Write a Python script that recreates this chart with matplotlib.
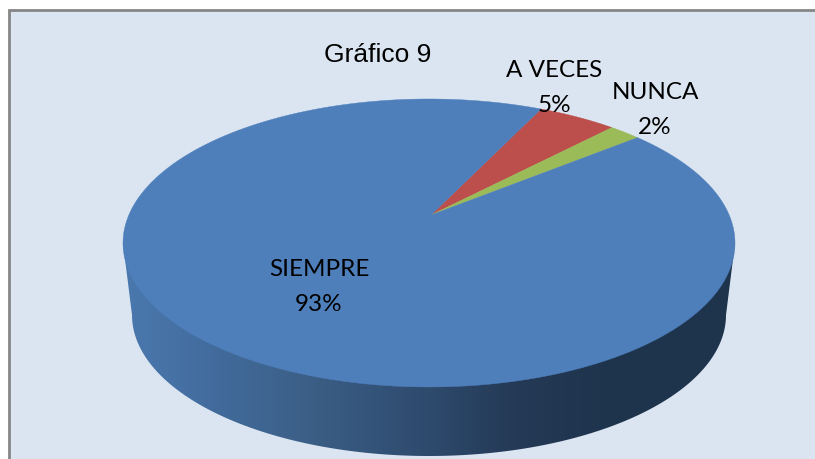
import numpy as np
import matplotlib
matplotlib.use('Agg')
import matplotlib.pyplot as plt
from matplotlib.colors import LinearSegmentedColormap
from matplotlib.patches import Rectangle

categories = ['SIEMPRE', 'A VECES', 'NUNCA']
values = [93, 5, 2]
colors = ['#4e7fbb', '#bc4f4c', '#9bbb59']
title = 'Gráfico 9'

# label centres in pixels
label_pos = [(319, 287), (554, 88), (655, 110)]

# top ellipse of the 3d pie, apex sits above the centre because of the perspective
cx, cy, rx, ry = 429, 243, 306, 144
apex_x, apex_y = 431, 215
start_angle = 64
k = (cy - apex_y) / ry


def project(theta):
    x = np.cos(theta)
    y = np.sin(theta)
    w = 1 + k * y
    px = cx + rx * np.sqrt(1 - k ** 2) * x / w
    py = cy - (ry * y + (cy - apex_y)) / w
    return px, py


fig = plt.figure(figsize=(8.15, 4.59), dpi=100)
ax = fig.add_axes([0, 0, 1, 1])
ax.set_xlim(0, 815)
ax.set_ylim(459, 0)
ax.axis('off')

# chart area and its grey border
ax.add_patch(Rectangle((9, 10), 830, 470, fc='#dbe5f1', ec='#868686', lw=2, zorder=0))

# side of the pie
t = np.linspace(np.pi, 2 * np.pi, 200)
bx = 429 + 297 * np.cos(t)
by = 315 - 141 * np.sin(t)
side_x = np.r_[123, bx, 735]
side_y = np.r_[243, by, 243]
side = ax.fill(side_x, side_y, color='none', zorder=1)[0]
side_cmap = LinearSegmentedColormap.from_list('side', [(0, '#4a78ae'), (0.13, '#436d9f'),
                                                       (0.29, '#3c6088'), (0.5, '#2e4a6d'),
                                                       (0.64, '#243a56'), (0.78, '#1f344d'),
                                                       (1, '#1e334c')])
im = ax.imshow(np.linspace(0, 1, 400).reshape(1, -1), cmap=side_cmap, aspect='auto',
               extent=[123, 735, 459, 200], zorder=1)
im.set_clip_path(side)
ax.set_xlim(0, 815)
ax.set_ylim(459, 0)

# top slices, clockwise like excel does it
order = [1, 2, 0]
angle = start_angle
for i in order:
    span = values[i] * 3.6
    th = np.deg2rad(np.linspace(angle, angle - span, 300))
    px, py = project(th)
    ax.fill(np.r_[apex_x, px], np.r_[apex_y, py], color=colors[i], lw=0.3, zorder=2)
    angle -= span

for cat, val, (lx, ly) in zip(categories, values, label_pos):
    ax.text(lx, ly, f'{cat}\n{val}%', ha='center', va='center', family='Lato',
            fontsize=17.5, color='black', linespacing=1.8, zorder=3)

ax.text(378, 55, title, ha='center', va='center', family='Liberation Sans',
        fontsize=19, color='black', zorder=3)

fig.savefig('out.png', dpi=100)
